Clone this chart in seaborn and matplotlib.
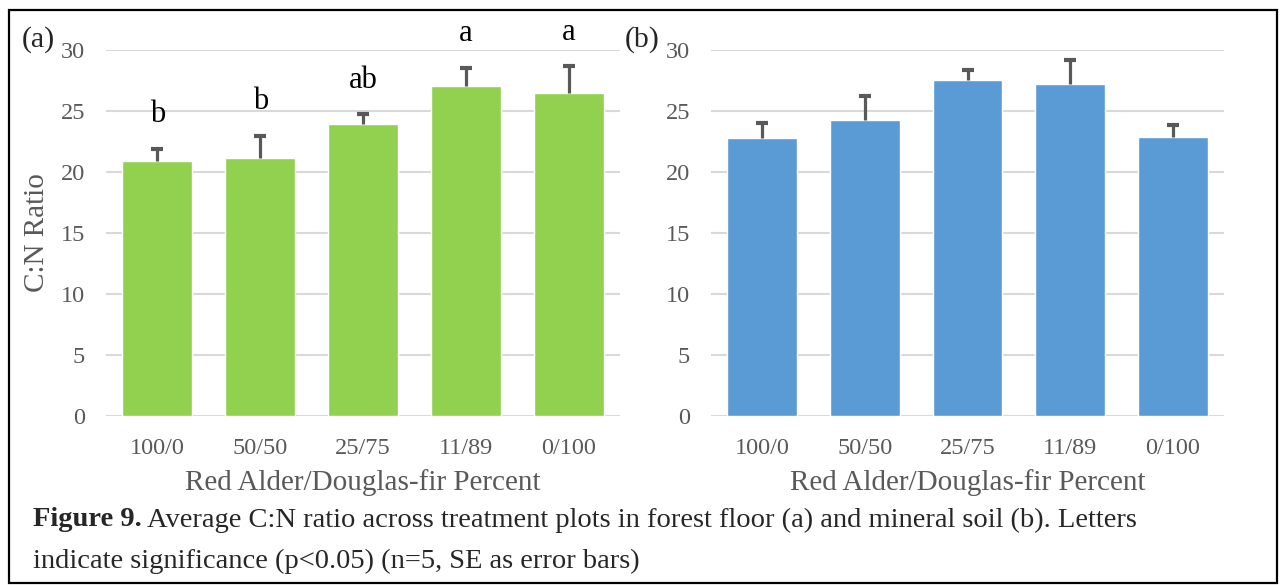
import matplotlib
matplotlib.use("Agg")
import matplotlib.pyplot as plt
import seaborn as sns
import pandas as pd
from matplotlib.patches import Rectangle

categories = ["100/0", "50/50", "25/75", "11/89", "0/100"]
floor_mean = [20.9, 21.15, 23.93, 27.05, 26.45]
floor_se = [1.0, 1.8, 0.8, 1.5, 2.2]
floor_letters = ["b", "b", "ab", "a", "a"]
soil_mean = [22.8, 24.26, 27.54, 27.2, 22.87]
soil_se = [1.25, 2.0, 0.8, 1.95, 0.95]

sns.set_theme(style="white")
plt.rcParams['font.family'] = ['Liberation Serif', 'DejaVu Serif']

W, H = 1280, 585
fig = plt.figure(figsize=(12.8, 5.85), dpi=100)

def px_axes(x0, x1, ytop, ybot):
    return fig.add_axes([x0 / W, 1 - ybot / H, (x1 - x0) / W, (ybot - ytop) / H])

ax1 = px_axes(106, 620, 50, 416)
ax2 = px_axes(711, 1224, 50, 416)

gray = "#595959"

def draw(ax, means, ses, color, ylabel):
    df = pd.DataFrame({"cat": categories, "val": means})
    sns.barplot(data=df, x="cat", y="val", ax=ax, color=color, width=0.68,
                saturation=1, errorbar=None, zorder=3)
    cont = ax.errorbar(range(len(categories)), means, yerr=[[0] * len(ses), ses],
                       fmt="none", ecolor=gray, elinewidth=2.3, capsize=4.3,
                       capthick=3, zorder=4, clip_on=False)
    caps = cont[1]
    if len(caps) >= 2:
        caps[0].set_visible(False)
    ax.set_ylim(0, 30)
    ax.set_xlim(-0.5, len(categories) - 0.5)
    ax.set_yticks(range(0, 31, 5))
    ax.yaxis.grid(True, color="#D9D9D9", linewidth=1.5, zorder=0)
    ax.set_axisbelow(True)
    for s in ax.spines.values():
        s.set_visible(False)
    ax.tick_params(axis="y", length=0, pad=15, labelsize=17.5, labelcolor=gray)
    ax.tick_params(axis="x", length=0, pad=16, labelsize=17.5, labelcolor=gray)
    ax.set_xlabel("Red Alder/Douglas-fir Percent", fontsize=21, color=gray, labelpad=7)
    ax.set_ylabel(ylabel, fontsize=21, color=gray, labelpad=8)

draw(ax1, floor_mean, floor_se, "#92D050", "C:N Ratio")
draw(ax2, soil_mean, soil_se, "#5B9BD5", "")

for i, (m, s, t) in enumerate(zip(floor_mean, floor_se, floor_letters)):
    ax1.text(i, m + s + 1.6, t, ha="center", va="bottom", fontsize=22, color="black")

fig.text(22 / W, 1 - 40 / H, "(a)", fontsize=21.5, ha="left", va="center")
fig.text(625 / W, 1 - 40 / H, "(b)", fontsize=21.5, ha="left", va="center")

# caption
fig.canvas.draw()
r = fig.canvas.get_renderer()
t1 = fig.text(33 / W, 1 - 520 / H, "Figure 9.", fontsize=20.5, fontweight="bold",
              ha="left", va="center")
bb = t1.get_window_extent(renderer=r)
fig.text(bb.x1 / W + 5 / W, 1 - 520 / H,
         "Average C:N ratio across treatment plots in forest floor (a) and mineral soil (b). Letters",
         fontsize=20.5, ha="left", va="center")
fig.text(33 / W, 1 - 561 / H, "indicate significance (p<0.05) (n=5, SE as error bars)",
         fontsize=20.5, ha="left", va="center")

fig.patches.append(Rectangle((9 / W, 1 - 583 / H), (1277 - 9) / W, (583 - 10) / H,
                             transform=fig.transFigure, fill=False,
                             edgecolor="black", linewidth=1.6))

fig.savefig("out.png", dpi=100)
